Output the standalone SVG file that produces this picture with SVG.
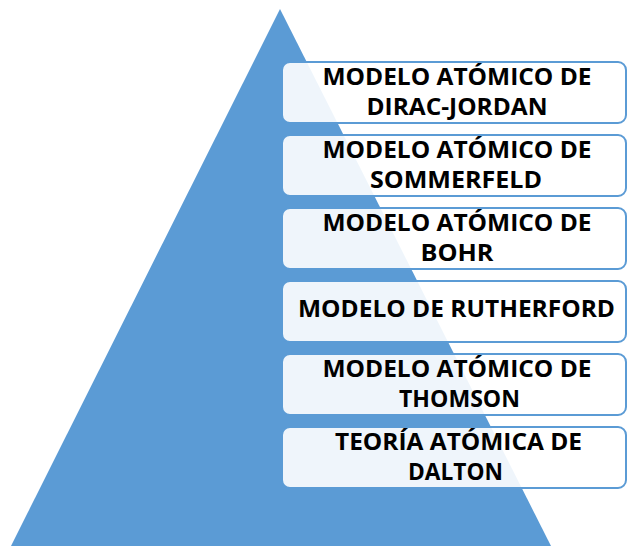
<svg xmlns="http://www.w3.org/2000/svg" width="628" height="546" viewBox="0 0 628 546">
<style>
.box{fill:#ffffff;fill-opacity:0.9;stroke:#5B9BD5;stroke-width:2}
.t{font-family:"Open Sans","Liberation Sans",sans-serif;font-weight:bold;font-size:23px;fill:#000000;text-anchor:middle}
</style>
<rect width="628" height="546" fill="#ffffff"/>
<g id="pyramid"><polygon points="280,9 551,546 11,546" fill="#5B9BD5"/></g>
<g id="connectors"></g>
<g id="n1"><rect class="box" x="282" y="62" width="344" height="61" rx="8"/>
<text class="t" x="457" y="85" textLength="269" lengthAdjust="spacingAndGlyphs">MODELO ATÓMICO DE</text>
<text class="t" x="457" y="115" textLength="181" lengthAdjust="spacingAndGlyphs">DIRAC-JORDAN</text></g>
<g id="n2"><rect class="box" x="282" y="135" width="344" height="61" rx="8"/>
<text class="t" x="457" y="158" textLength="269" lengthAdjust="spacingAndGlyphs">MODELO ATÓMICO DE</text>
<text class="t" x="456" y="188" textLength="172" lengthAdjust="spacingAndGlyphs">SOMMERFELD</text></g>
<g id="n3"><rect class="box" x="282" y="208" width="344" height="61" rx="8"/>
<text class="t" x="457" y="231" textLength="269" lengthAdjust="spacingAndGlyphs">MODELO ATÓMICO DE</text>
<text class="t" x="457" y="261" textLength="73" lengthAdjust="spacingAndGlyphs">BOHR</text></g>
<g id="n4"><rect class="box" x="282" y="281" width="344" height="61" rx="8"/>
<text class="t" x="456.5" y="317" textLength="317" lengthAdjust="spacingAndGlyphs">MODELO DE RUTHERFORD</text></g>
<g id="n5"><rect class="box" x="282" y="354" width="344" height="61" rx="8"/>
<text class="t" x="457" y="377" textLength="269" lengthAdjust="spacingAndGlyphs">MODELO ATÓMICO DE</text>
<text class="t" x="459.5" y="407" textLength="121" lengthAdjust="spacingAndGlyphs">THOMSON</text></g>
<g id="n6"><rect class="box" x="282" y="427" width="344" height="61" rx="8"/>
<text class="t" x="458.5" y="450" textLength="247" lengthAdjust="spacingAndGlyphs">TEORÍA ATÓMICA DE</text>
<text class="t" x="455.5" y="480" textLength="95" lengthAdjust="spacingAndGlyphs">DALTON</text></g>
</svg>
